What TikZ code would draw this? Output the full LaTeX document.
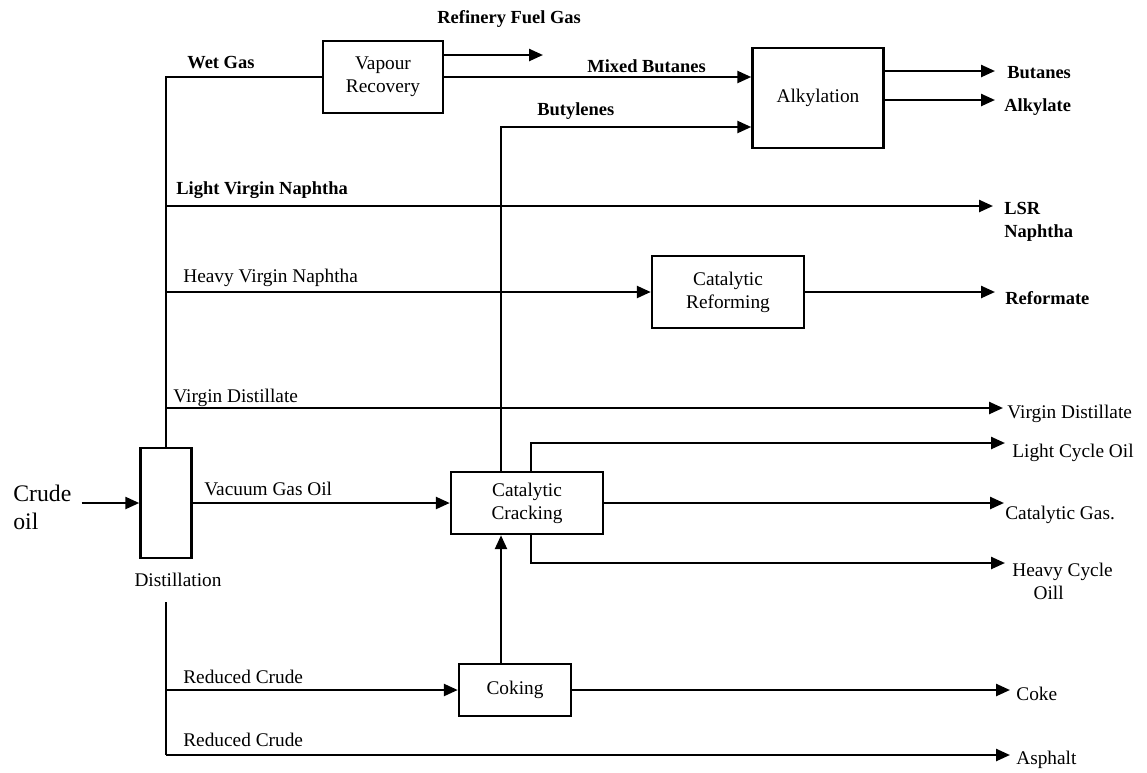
\documentclass[tikz,border=0pt]{standalone}
\usepackage{fontspec}
\setmainfont{Liberation Serif}
\usetikzlibrary{arrows.meta,positioning,calc}
\tikzset{
  unit/.style={rectangle, draw=black, line width=1.4pt, fill=white, align=center,
               font=\fontsize{11}{13}\selectfont, inner sep=2pt},
  pipe/.style={line width=1.4pt, draw=black},
  flow/.style={pipe, -{Triangle[length=0.28cm, width=0.24cm]}},
  lbl/.style={anchor=base west, inner sep=0pt, font=\fontsize{11}{13}\selectfont},
  blbl/.style={lbl, font=\fontsize{10.5}{13}\selectfont\bfseries},
}

\begin{document}
\begin{tikzpicture}[x=0.02cm, y=-0.02cm]
  \useasboundingbox (0,0) rectangle (1147,772);
  % process units
  \node[unit, minimum width=1.02cm, minimum height=2.2cm] (dist) at (166,503) {};
  \node[unit, minimum width=2.4cm, minimum height=1.44cm] (vap) at (383,77) {Vapour\\Recovery};
  \node[unit, minimum width=2.62cm, minimum height=2cm] (alky) at (818,98) {Alkylation};
  \node[unit, minimum width=3.04cm, minimum height=1.44cm] (ref) at (728,292) {Catalytic\\Reforming};
  \node[unit, minimum width=3.04cm, minimum height=1.24cm] (cat) at (527,503) {Catalytic\\Cracking};
  \node[unit, minimum width=2.24cm, minimum height=1.04cm] (cok) at (515,690) {Coking};
  % feed
  \node[lbl, font=\fontsize{13.5}{16}\selectfont, align=left, anchor=west] (crude) at (13,507) {Crude\\oil};
  \node[lbl, anchor=base] (dlab) at (178,586) {Distillation};
  \coordinate (lowtop) at (166,602);
  \coordinate (riser) at (501,127);
  % product ends
  \coordinate (o-rfg) at (543,55);
  \coordinate (o-but) at (995,71);
  \coordinate (o-alk) at (995,100);
  \coordinate (o-lsr) at (993,206);
  \coordinate (o-rft) at (995,292);
  \coordinate (o-vd) at (1003,408);
  \coordinate (o-lco) at (1005,443);
  \coordinate (o-cg) at (1004,503);
  \coordinate (o-hco) at (1005,563);
  \coordinate (o-cok) at (1010,690);
  \coordinate (o-asp) at (1010,755);
  % product names
  \node[blbl] (t-rfg) at (437,23) {Refinery Fuel Gas};
  \node[blbl] (t-but) at (1007,78) {Butanes};
  \node[blbl] (t-alk) at (1004,111) {Alkylate};
  \node[blbl, anchor=north west, align=left] (t-lsr) at (1004,202) {LSR\\Naphtha};
  \node[blbl] (t-rft) at (1005,304) {Reformate};
  \node[lbl] (t-vd) at (1007,418) {Virgin Distillate};
  \node[lbl] (t-lco) at (1012,457) {Light Cycle Oil};
  \node[lbl] (t-cg) at (1005,519) {Catalytic Gas.};
  \node[lbl, anchor=north west, align=left] (t-hco) at (1012,563) {Heavy Cycle\\\hspace*{1.1em}Oill};
  \node[lbl] (t-cok) at (1016,700) {Coke};
  \node[lbl] (t-asp) at (1016,764) {Asphalt};
  % stream names
  \node[blbl] (s-wet) at (187,68) {Wet Gas};
  \node[blbl] (s-mix) at (587,72) {Mixed Butanes};
  \node[blbl] (s-bty) at (537,115) {Butylenes};
  \node[blbl] (s-lvn) at (176,194) {Light Virgin Naphtha};
  \node[lbl] (s-hvn) at (183,282) {Heavy Virgin Naphtha};
  \node[lbl] (s-vd) at (173,402) {Virgin Distillate};
  \node[lbl] (s-vgo) at (204,495) {Vacuum Gas Oil};
  \node[lbl] (s-rc1) at (183,683) {Reduced Crude};
  \node[lbl] (s-rc2) at (183,746) {Reduced Crude};
  % distillation cuts
  \draw[pipe] (dist.north) |- (vap.west);
  \draw[pipe] (lowtop) -- (lowtop |- o-asp);
  \draw[flow, shorten <=0.2cm] (crude.east |- dist.west) -- (dist.west);
  \draw[flow] (dist.north |- o-lsr) -- (o-lsr);
  \draw[flow] (dist.north |- ref.west) -- (ref.west);
  \draw[flow] (dist.north |- o-vd) -- (o-vd);
  \draw[flow] (dist.east) -- (cat.west);
  \draw[flow] (lowtop |- cok.west) -- (cok.west);
  \draw[flow] (lowtop |- o-asp) -- (o-asp);
  % light ends
  \draw[flow] (vap.east |- o-rfg) -- (o-rfg);
  \draw[flow] (vap.east) -- (alky.west |- vap.east);
  \draw[flow] (cat.north -| riser) |- (alky.west |- riser);
  \draw[flow] (alky.east |- o-but) -- (o-but);
  \draw[flow] (alky.east |- o-alk) -- (o-alk);
  \draw[flow] (ref.east) -- (o-rft);
  % cracking and coking
  \draw[flow] (cok.north -| riser) -- (cat.south -| riser);
  \draw[flow] ([xshift=0.08cm]cat.north) |- (o-lco);
  \draw[flow] (cat.east) -- (o-cg);
  \draw[flow] ([xshift=0.08cm]cat.south) |- (o-hco);
  \draw[flow] (cok.east) -- (o-cok);
\end{tikzpicture}
\end{document}
